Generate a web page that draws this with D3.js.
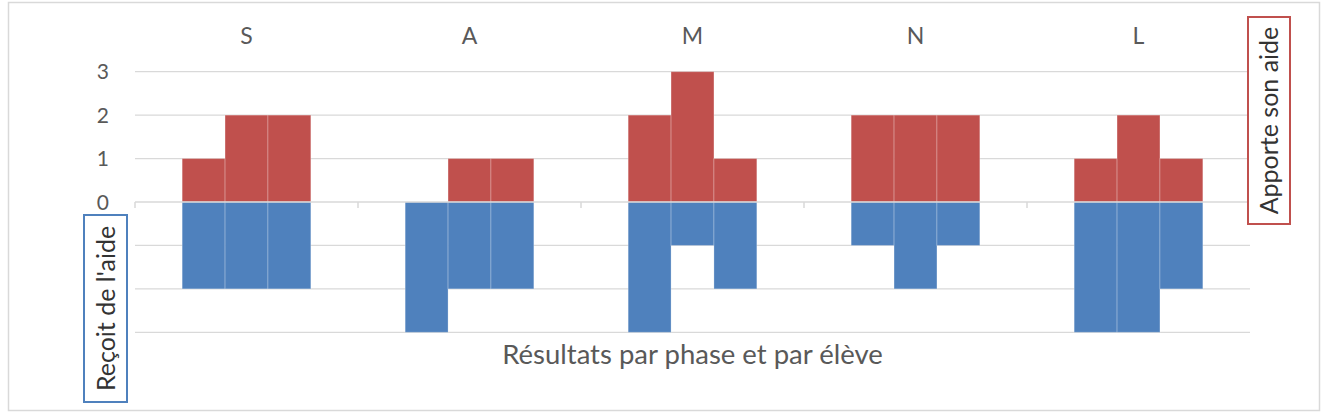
<!DOCTYPE html>
<html>
<head>
<meta charset="utf-8">
<script src="https://cdn.jsdelivr.net/npm/d3@7"></script>
<style>
  body { margin: 0; background: #fff; }
  text { font-family: Lato, "Open Sans", sans-serif; }
</style>
</head>
<body>
<svg id="chart"></svg>
<script>
// phases (one group per phase) and the three pupils in each
var phases = ["S", "A", "M", "N", "L"];
var pupils = [0, 1, 2];

// "Apporte son aide" (positive, red)
var apporte = [
    [1, 2, 2],
    [0, 1, 1],
    [2, 3, 1],
    [2, 2, 2],
    [1, 2, 1]
];
// "Reçoit de l'aide" (negative, blue)
var recoit = [
    [-2, -2, -2],
    [-3, -2, -2],
    [-3, -1, -2],
    [-1, -2, -1],
    [-3, -3, -2]
];
var yTicks = [-3, -2, -1, 0, 1, 2, 3];
var yTickLabels = ["", "", "", "0", "1", "2", "3"];

var svg = d3.select("#chart")
    .attr("width", 1326)
    .attr("height", 420);

// chart frame
svg.append("rect")
    .attr("x", 8.5).attr("y", 2.5)
    .attr("width", 1311).attr("height", 408)
    .attr("fill", "#fff")
    .attr("stroke", "#d9d9d9")
    .attr("stroke-width", 1.5);

var xScale = d3.scaleBand().domain(phases).range([135, 1250]);
var xInner = d3.scaleBand().domain(pupils)
    .range([0, xScale.bandwidth()])
    .paddingInner(0)
    .paddingOuter(1.1);
var yScale = d3.scaleLinear().domain([-3, 3]).range([332.3, 71.7]);

// gridlines
svg.append("g")
    .selectAll("line")
    .data(yTicks.filter(d => d !== 0))
    .enter().append("line")
    .attr("x1", 135).attr("x2", 1250)
    .attr("y1", d => yScale(d)).attr("y2", d => yScale(d))
    .attr("stroke", "#d9d9d9")
    .attr("stroke-width", 1.3);

// y tick labels
svg.append("g")
    .selectAll("text")
    .data(yTicks)
    .enter().append("text")
    .attr("x", 109)
    .attr("y", d => yScale(d))
    .attr("dy", "0.36em")
    .attr("text-anchor", "end")
    .attr("fill", "#595959")
    .attr("font-size", 21)
    .text((d, i) => yTickLabels[i]);

// bars
var rows = [];
phases.forEach((p, i) => {
    pupils.forEach(j => {
        rows.push({phase: p, pupil: j, up: apporte[i][j], down: recoit[i][j]});
    });
});

var groups = svg.append("g");
groups.selectAll(".bar-up")
    .data(rows.filter(d => d.up !== 0))
    .enter().append("rect")
    .attr("class", "bar-up")
    .attr("x", d => xScale(d.phase) + xInner(d.pupil))
    .attr("y", d => yScale(d.up))
    .attr("width", xInner.bandwidth())
    .attr("height", d => yScale(0) - yScale(d.up))
    .attr("fill", "#c0504d")
    .attr("stroke", "rgba(255,255,255,0.25)")
    .attr("stroke-width", 1);

groups.selectAll(".bar-down")
    .data(rows)
    .enter().append("rect")
    .attr("class", "bar-down")
    .attr("x", d => xScale(d.phase) + xInner(d.pupil))
    .attr("y", yScale(0))
    .attr("width", xInner.bandwidth())
    .attr("height", d => yScale(d.down) - yScale(0))
    .attr("fill", "#4f81bd")
    .attr("stroke", "rgba(255,255,255,0.25)")
    .attr("stroke-width", 1);

// category axis at zero with ticks between phases
var xAxis = svg.append("g")
    .attr("transform", "translate(0," + yScale(0) + ")");
xAxis.append("line")
    .attr("x1", 135).attr("x2", 1250)
    .attr("stroke", "#d9d9d9")
    .attr("stroke-width", 1.5);
xAxis.selectAll(".tick")
    .data(phases.map(p => xScale(p)).concat([1250]))
    .enter().append("line")
    .attr("x1", d => d).attr("x2", d => d)
    .attr("y1", 0).attr("y2", 6)
    .attr("stroke", "#d9d9d9")
    .attr("stroke-width", 1.5);

// phase labels at the top
svg.append("g")
    .selectAll("text")
    .data(phases)
    .enter().append("text")
    .attr("x", d => xScale(d) + xScale.bandwidth() / 2)
    .attr("y", 44)
    .attr("text-anchor", "middle")
    .attr("fill", "#595959")
    .attr("font-size", 23)
    .text(d => d);

// axis title
svg.append("text")
    .attr("x", (135 + 1250) / 2)
    .attr("y", 364)
    .attr("text-anchor", "middle")
    .attr("fill", "#595959")
    .attr("font-size", 27.5)
    .text("Résultats par phase et par élève");

// side labels in boxes
function sideLabel(x, y, w, h, color, label) {
    svg.append("rect")
        .attr("x", x).attr("y", y)
        .attr("width", w).attr("height", h)
        .attr("fill", "#fff")
        .attr("stroke", color)
        .attr("stroke-width", 2);
    svg.append("text")
        .attr("transform", "translate(" + (x + w / 2) + "," + (y + h / 2) + ") rotate(-90)")
        .attr("text-anchor", "middle")
        .attr("dy", "0.36em")
        .attr("fill", "#333")
        .attr("font-size", 25)
        .text(label);
}
sideLabel(1248, 17, 42, 207, "#c0504d", "Apporte son aide");
sideLabel(84, 215, 43, 187, "#4f81bd", "Reçoit de l'aide");
</script>
</body>
</html>
